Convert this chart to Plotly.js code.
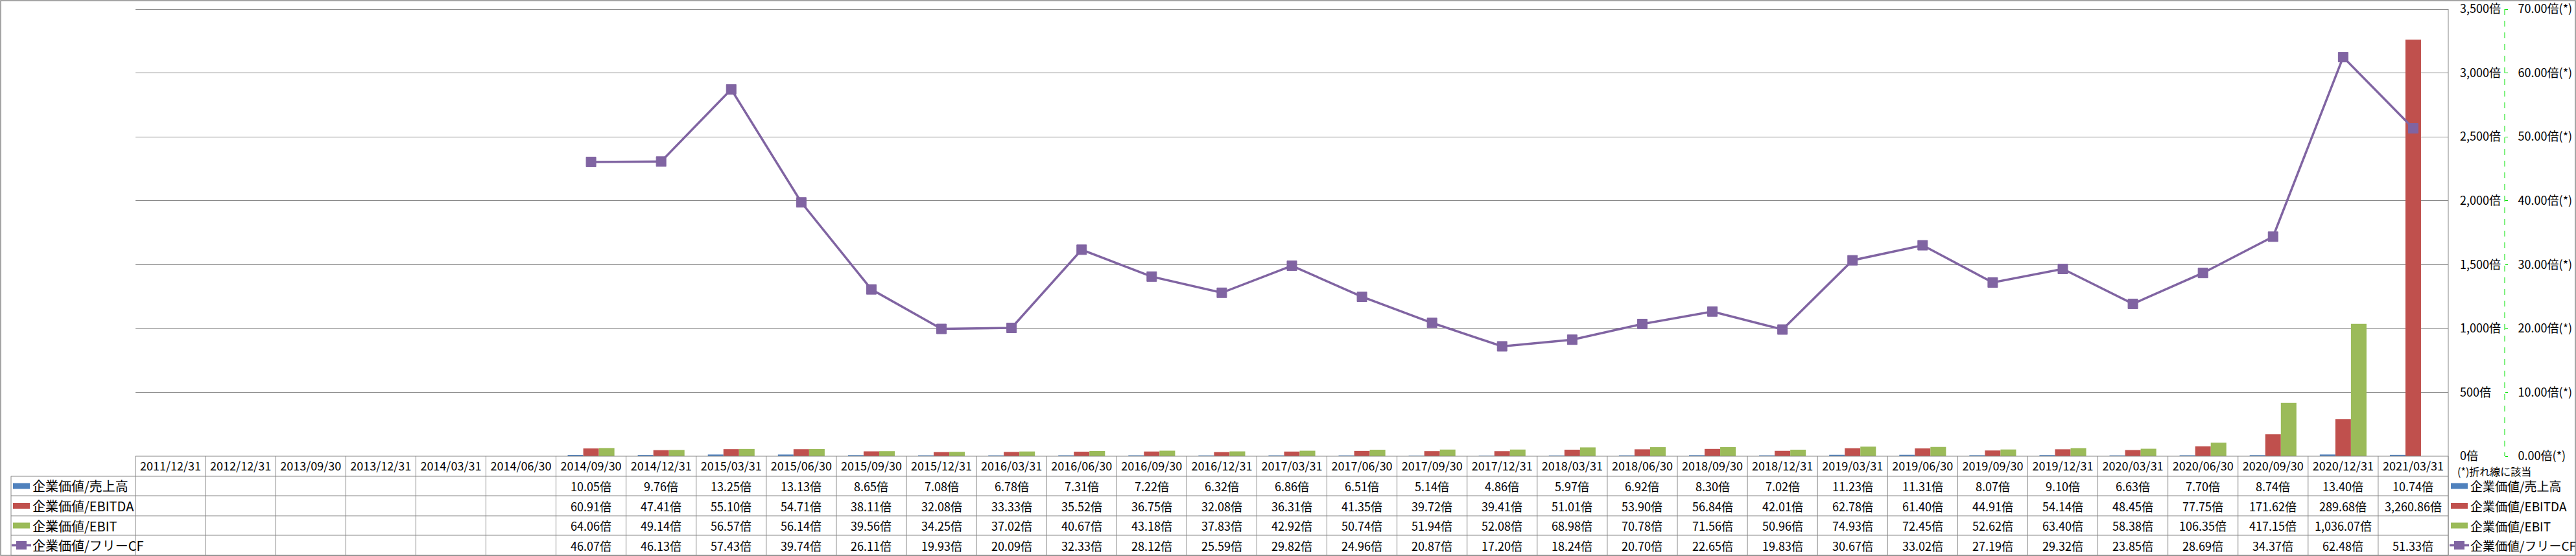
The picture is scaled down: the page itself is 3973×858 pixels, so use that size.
<!DOCTYPE html>
<html><head><meta charset="utf-8">
<script src="https://cdn.plot.ly/plotly-3.0.1.min.js"></script>
<style>html,body{margin:0;padding:0;background:#fff;}#chart{width:3973px;height:858px;}</style>
</head><body><div id="chart"></div>
<script>
const categories = ['2011/12/31','2012/12/31','2013/09/30','2013/12/31','2014/03/31','2014/06/30','2014/09/30','2014/12/31','2015/03/31','2015/06/30','2015/09/30','2015/12/31','2016/03/31','2016/06/30','2016/09/30','2016/12/31','2017/03/31','2017/06/30','2017/09/30','2017/12/31','2018/03/31','2018/06/30','2018/09/30','2018/12/31','2019/03/31','2019/06/30','2019/09/30','2019/12/31','2020/03/31','2020/06/30','2020/09/30','2020/12/31','2021/03/31'];
const evSales  = [null,null,null,null,null,null,10.05,9.76,13.25,13.13,8.65,7.08,6.78,7.31,7.22,6.32,6.86,6.51,5.14,4.86,5.97,6.92,8.30,7.02,11.23,11.31,8.07,9.10,6.63,7.70,8.74,13.40,10.74];
const evEbitda = [null,null,null,null,null,null,60.91,47.41,55.10,54.71,38.11,32.08,33.33,35.52,36.75,32.08,36.31,41.35,39.72,39.41,51.01,53.90,56.84,42.01,62.78,61.40,44.91,54.14,48.45,77.75,171.62,289.68,3260.86];
const evEbit   = [null,null,null,null,null,null,64.06,49.14,56.57,56.14,39.56,34.25,37.02,40.67,43.18,37.83,42.92,50.74,51.94,52.08,68.98,70.78,71.56,50.96,74.93,72.45,52.62,63.40,58.38,106.35,417.15,1036.07,null];
const evFcf    = [null,null,null,null,null,null,46.07,46.13,57.43,39.74,26.11,19.93,20.09,32.33,28.12,25.59,29.82,24.96,20.87,17.20,18.24,20.70,22.65,19.83,30.67,33.02,27.19,29.32,23.85,28.69,34.37,62.48,51.33];
const seriesNames = ['企業価値/売上高','企業価値/EBITDA','企業価値/EBIT','企業価値/フリーCF'];
const seriesColors = ['#4F81BD','#C0504D','#9BBB59','#8064A2'];
const noteText = '(*)折れ線に該当';
const yMax = 3500, y2Max = 70;

const FONT = '"Noto Sans CJK JP", "Noto Sans", sans-serif';
const W = 3973, H = 858, L = 209, R = 10, T = 4, B = 154;
const PW = W - L - R, PH = H - T - B;
const TOP = 14, BOT = 704;              // pixel rows of max and zero
const px = x => (x - L) / PW;
const py = y => (H - B - y) / PH;
const PLOT_R = 3776;
const GRID = '#868686';
const stretch = (BOT - T) / (BOT - TOP);

const rowLines = [735, 765, 796, 826, 857];
const rowCenters = [750, 780.5, 811, 841.5];
const allSeries = [evSales, evEbitda, evEbit, evFcf];

function fmt(v) {
  return v.toLocaleString('en-US', {minimumFractionDigits: 2, maximumFractionDigits: 2}) + '倍';
}

const traces = [];
[0, 1, 2].forEach(i => {
  traces.push({type: 'bar', x: categories, y: allSeries[i], name: seriesNames[i],
    marker: {color: seriesColors[i]}, hoverinfo: 'skip', showlegend: false});
});
traces.push({type: 'scatter', mode: 'lines+markers', x: categories, y: evFcf, name: seriesNames[3],
  yaxis: 'y2', line: {color: seriesColors[3], width: 3.5},
  marker: {symbol: 'square', size: 15, color: seriesColors[3], line: {color: seriesColors[3], width: 1}},
  hoverinfo: 'skip', showlegend: false});

const shapes = [];
const line = (x0, y0, x1, y1, extra) => Object.assign({type: 'line', xref: 'paper', yref: 'paper',
  x0: px(x0), y0: py(y0), x1: px(x1), y1: py(y1), line: {color: GRID, width: 1}, layer: 'above'}, extra || {});

// outer border
shapes.push({type: 'rect', xref: 'paper', yref: 'paper', x0: px(1), y0: py(1), x1: px(3972), y1: py(857),
  line: {color: GRID, width: 1.5}, layer: 'below'});
// table header top
shapes.push(line(L, BOT, PLOT_R, BOT));
// table horizontal lines
rowLines.forEach(y => shapes.push(line(17, y, PLOT_R, y)));
// legend column left border
shapes.push(line(17, 735, 17, 857));
// plot right border
shapes.push(line(PLOT_R, TOP, PLOT_R, 857));
// category separators in table
const colW = (PLOT_R - L) / categories.length;
for (let i = 0; i <= categories.length; i++) {
  const xx = L + i * colW;
  shapes.push(line(xx, BOT, xx, 857));
}
// green dashed secondary axis line
shapes.push({type: 'line', xref: 'paper', yref: 'paper', x0: px(3863), x1: px(3863), y0: py(TOP), y1: py(BOT),
  line: {color: '#00E000', width: 1, dash: 'dash'}, layer: 'above'});

const annotations = [];
// table values
allSeries.forEach((s, r) => {
  s.forEach((v, i) => {
    if (v === null) return;
    annotations.push({xref: 'paper', yref: 'paper', x: px(L + (i + 0.5) * colW), y: py(rowCenters[r]), text: fmt(v),
      showarrow: false, xanchor: 'center', yanchor: 'middle', font: {family: FONT, size: 18, color: '#000'}});
  });
});
// legend keys (left table column and right legend)
[[20, 48, 20], [3780, 3808, 19]].forEach(([sx, tx, fs]) => {
  seriesNames.forEach((n, r) => {
    const yc = rowCenters[r];
    if (r < 3) {
      shapes.push({type: 'rect', xref: 'paper', yref: 'paper', x0: px(sx), x1: px(sx + 26),
        y0: py(yc - 4.5), y1: py(yc + 4.5), fillcolor: seriesColors[r], line: {width: 0}, layer: 'above'});
    } else {
      shapes.push(line(sx - 2, yc, sx + 28, yc, {line: {color: seriesColors[r], width: 3.5}}));
      shapes.push({type: 'rect', xref: 'paper', yref: 'paper', x0: px(sx + 5), x1: px(sx + 21),
        y0: py(yc - 6.5), y1: py(yc + 6.5), fillcolor: seriesColors[r], line: {width: 0}, layer: 'above'});
    }
    annotations.push({xref: 'paper', yref: 'paper', x: px(tx), y: py(yc), text: n, showarrow: false,
      xanchor: 'left', yanchor: 'middle', font: {family: FONT, size: fs, color: '#000'}});
  });
});
annotations.push({xref: 'paper', yref: 'paper', x: px(3788), y: py(727), text: noteText, showarrow: false,
  xanchor: 'left', yanchor: 'middle', font: {family: FONT, size: 16, color: '#000'}});

const layout = {
  width: W, height: H,
  margin: {l: L, r: R, t: T, b: B, pad: 0},
  paper_bgcolor: '#fff', plot_bgcolor: '#fff',
  font: {family: FONT, size: 17, color: '#000'},
  showlegend: false,
  barmode: 'group', bargap: 0.333, bargroupgap: 0,
  xaxis: {type: 'category', domain: [0, px(PLOT_R)], range: [-0.5, categories.length - 0.5], autorange: false,
    tickmode: 'array', tickvals: categories, ticktext: categories,
    showgrid: false, zeroline: false, showline: false, ticks: '', ticklabelstandoff: 3,
    tickfont: {family: FONT, size: 18, color: '#000'}, fixedrange: true, automargin: false},
  yaxis: {side: 'right', range: [0, yMax * stretch], autorange: false, dtick: 500, tick0: 0, tickformat: ',d', ticksuffix: '倍',
    showgrid: true, gridcolor: GRID, gridwidth: 1, zeroline: false, showline: false, ticks: '',
    ticklabeloverflow: 'allow',
    ticklabelstandoff: 17, tickfont: {family: FONT, size: 18, color: '#000'}, automargin: false},
  yaxis2: {overlaying: 'y', side: 'right', anchor: 'free', position: px(3863), range: [0, y2Max * stretch], autorange: false,
    dtick: 10, tick0: 0, ticklabeloverflow: 'allow',
    tickformat: '.2f', ticksuffix: '倍(*)', showgrid: false, zeroline: false, showline: false,
    ticks: 'outside', ticklen: 4, tickcolor: '#00E000', tickwidth: 1, ticklabelstandoff: 12,
    tickfont: {family: FONT, size: 18, color: '#000'}, automargin: false},
  shapes: shapes,
  annotations: annotations
};

Plotly.newPlot('chart', traces, layout, {staticPlot: true, displayModeBar: false});
</script></body></html>
